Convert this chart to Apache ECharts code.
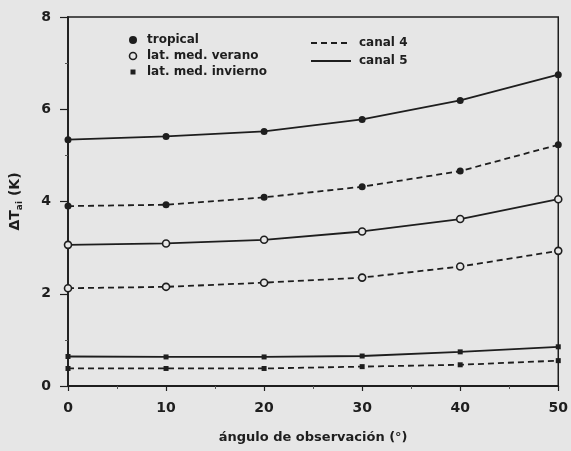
<!DOCTYPE html>
<html>
<head>
<meta charset="utf-8">
<script src="https://cdn.jsdelivr.net/npm/echarts@6/dist/echarts.min.js"></script>
<style>
  html, body { margin: 0; padding: 0; background: #e6e6e6; }
  #chart { width: 571px; height: 451px; }
</style>
</head>
<body>
<div id="chart"></div>
<script>
// Observation angle (degrees)
var angles = [0, 10, 20, 30, 40, 50];

// Atmospheric correction ΔT_ai (K) per atmosphere and channel
var tropicalC5 = [5.34, 5.41, 5.52, 5.78, 6.19, 6.75];
var tropicalC4 = [3.90, 3.93, 4.09, 4.32, 4.66, 5.23];
var veranoC5 = [3.06, 3.09, 3.17, 3.35, 3.62, 4.05];
var veranoC4 = [2.12, 2.15, 2.24, 2.35, 2.59, 2.93];
var inviernoC5 = [0.64, 0.63, 0.63, 0.65, 0.74, 0.85];
var inviernoC4 = [0.38, 0.38, 0.38, 0.42, 0.46, 0.55];

var yTicks = [0, 2, 4, 6, 8];
var xTicks = [0, 10, 20, 30, 40, 50];

var INK = '#1e1e1e';
var PAPER = '#e6e6e6';
var FONT = 'DejaVu Sans';

function pairs(vals) {
  return angles.map(function (a, i) { return [a, vals[i]]; });
}

function makeSeries(name, vals, dashed, symbol) {
  var sym = symbol === 'open' ? 'circle' : symbol;
  return {
    name: name,
    type: 'line',
    data: pairs(vals),
    clip: false,
    symbol: sym,
    symbolSize: symbol === 'rect' ? 5 : 7,
    showAllSymbol: true,
    lineStyle: { color: INK, width: 1.8, type: dashed ? [6, 4] : 'solid' },
    itemStyle: {
      color: symbol === 'open' ? PAPER : INK,
      borderColor: INK,
      borderWidth: symbol === 'open' ? 1.6 : 0
    },
    emphasis: { disabled: true },
    animation: false
  };
}

var chart = echarts.init(document.getElementById('chart'), null, { renderer: 'canvas' });

var legendTextStyle = { fill: INK, font: 'bold 12px "' + FONT + '"', textVerticalAlign: 'middle' };

chart.setOption({
  backgroundColor: PAPER,
  animation: false,
  grid: {
    left: 68, right: 10, top: 17, bottom: 65,
    show: true, borderColor: INK, borderWidth: 1.5, backgroundColor: 'transparent'
  },
  xAxis: {
    type: 'value', min: xTicks[0], max: xTicks[xTicks.length - 1], interval: 10,
    name: 'ángulo de observación (°)',
    nameLocation: 'middle', nameGap: 45,
    nameTextStyle: { color: INK, fontFamily: FONT, fontWeight: 'bold', fontSize: 13 },
    axisLine: { lineStyle: { color: INK, width: 1.8 } },
    axisTick: { show: true, length: 5, lineStyle: { color: INK, width: 1.2 } },
    minorTick: { show: true, splitNumber: 2, length: 3, lineStyle: { color: '#555', width: 1 } },
    axisLabel: { color: INK, fontFamily: FONT, fontWeight: 'bold', fontSize: 14, margin: 15 },
    splitLine: { show: false }
  },
  yAxis: {
    type: 'value', min: yTicks[0], max: yTicks[yTicks.length - 1], interval: 2,
    name: '{m|ΔT}{s|ai}{m| (K)}',
    nameLocation: 'middle', nameGap: 44, nameRotate: 90,
    nameTextStyle: {
      color: INK, fontFamily: FONT, fontWeight: 'bold', fontSize: 14,
      rich: {
        m: { fontFamily: FONT, fontWeight: 'bold', fontSize: 14, color: INK },
        s: { fontFamily: FONT, fontWeight: 'bold', fontSize: 9, color: INK, padding: [9, 0, 0, 0] }
      }
    },
    axisLine: { lineStyle: { color: INK, width: 1.8 } },
    axisTick: { show: true, length: 8, lineStyle: { color: INK, width: 1.2 } },
    minorTick: { show: true, splitNumber: 2, length: 3, lineStyle: { color: '#555', width: 1 } },
    axisLabel: { color: INK, fontFamily: FONT, fontWeight: 'bold', fontSize: 14, margin: 17 },
    splitLine: { show: false }
  },
  series: [
    makeSeries('tropical canal 5', tropicalC5, false, 'circle'),
    makeSeries('tropical canal 4', tropicalC4, true, 'circle'),
    makeSeries('lat. med. verano canal 5', veranoC5, false, 'open'),
    makeSeries('lat. med. verano canal 4', veranoC4, true, 'open'),
    makeSeries('lat. med. invierno canal 5', inviernoC5, false, 'rect'),
    makeSeries('lat. med. invierno canal 4', inviernoC4, true, 'rect')
  ],
  graphic: [
    // atmosphere key
    { type: 'circle', shape: { cx: 133, cy: 40, r: 4 }, style: { fill: INK } },
    { type: 'text', x: 147, y: 40, style: Object.assign({ text: 'tropical' }, legendTextStyle) },
    { type: 'circle', shape: { cx: 133, cy: 56, r: 3.5 }, style: { fill: PAPER, stroke: INK, lineWidth: 1.6 } },
    { type: 'text', x: 147, y: 56, style: Object.assign({ text: 'lat. med. verano' }, legendTextStyle) },
    { type: 'rect', shape: { x: 130.5, y: 69.5, width: 5, height: 5 }, style: { fill: INK } },
    { type: 'text', x: 147, y: 72, style: Object.assign({ text: 'lat. med. invierno' }, legendTextStyle) },
    // channel key
    { type: 'line', shape: { x1: 311, y1: 43, x2: 351, y2: 43 }, style: { stroke: INK, lineWidth: 1.8, lineDash: [6, 4] } },
    { type: 'text', x: 359, y: 43, style: Object.assign({ text: 'canal 4' }, legendTextStyle) },
    { type: 'line', shape: { x1: 311, y1: 61, x2: 351, y2: 61 }, style: { stroke: INK, lineWidth: 1.8 } },
    { type: 'text', x: 359, y: 61, style: Object.assign({ text: 'canal 5' }, legendTextStyle) }
  ]
});
</script>
</body>
</html>
